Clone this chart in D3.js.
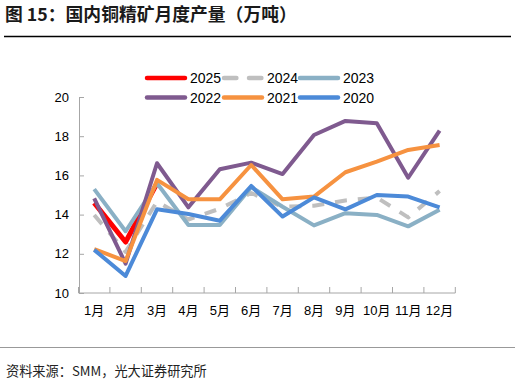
<!DOCTYPE html>
<html><head><meta charset="utf-8">
<script src="https://cdn.jsdelivr.net/npm/d3@7"></script>
<style>
html,body{margin:0;padding:0;background:#fff;}
svg{display:block;}
text{font-family:"Liberation Sans",Arial,"Noto Sans CJK SC",sans-serif;}
</style></head>
<body>
<svg id="c" width="515" height="382"></svg>
<script>
const months = ["1月","2月","3月","4月","5月","6月","7月","8月","9月","10月","11月","12月"];
const yTicks = [10,12,14,16,18,20];
const years = ["2025","2024","2023","2022","2021","2020"];
const s2025 = [14.6, 12.6, 15.6];
const s2024 = [13.98, 12.1, 14.66, 13.75, 14.3, 15.1, 14.4, 14.45, 14.72, 14.87, 13.86, 15.2];
const s2023 = [15.3, 13.15, 15.6, 13.47, 13.47, 15.4, 14.4, 13.45, 14.07, 13.98, 13.4, 14.25];
const s2022 = [14.83, 11.5, 16.62, 14.37, 16.31, 16.65, 16.07, 18.06, 18.78, 18.66, 15.88, 18.28];
const s2021 = [12.24, 11.63, 15.77, 14.78, 14.78, 16.53, 14.78, 14.92, 16.16, 16.7, 17.3, 17.55];
const s2020 = [12.2, 10.87, 14.27, 14.03, 13.69, 15.46, 13.9, 14.88, 14.27, 15.0, 14.92, 14.37];
const seriesValues = [s2025, s2024, s2023, s2022, s2021, s2020];
const colors = ["#FF0000","#BFBFBF","#8AB0C5","#7F5A8F","#F69240","#4C8AD8"];
const dashes = [null,"12,11",null,null,null,null];
const widths = [5,4,4,4,4,4];

const svg = d3.select("#c");
const x = d3.scaleBand().domain(months).range([78.5, 455.3]);
const y = d3.scaleLinear().domain([10,20]).range([293,97]);

// title
svg.append("text").attr("x",5).attr("y",21)
  .style("font-family","'Noto Sans CJK SC',sans-serif").style("font-weight","bold").style("font-size","17.8px")
  .attr("fill","#1a1a1a").text("图 15：国内铜精矿月度产量（万吨）");
svg.append("line").attr("x1",4).attr("x2",511).attr("y1",36.5).attr("y2",36.5)
  .attr("stroke","#000").attr("stroke-width",1.5);

// axes
const axisColor = "#A6A6A6";
const gy = svg.append("g").attr("transform","translate(79,0)")
  .call(d3.axisLeft(y).tickValues(yTicks).tickSize(-5).tickPadding(10).tickFormat(d3.format("d")));
gy.select(".domain").attr("stroke",axisColor);
gy.selectAll(".tick line").attr("stroke",axisColor);
gy.selectAll("text").style("font-size","13px").attr("fill","#000");

const gx = svg.append("g").attr("transform","translate(0,293)");
gx.append("line").attr("x1",78.5).attr("x2",455.3).attr("y1",0).attr("y2",0).attr("stroke",axisColor);
const bounds = months.map(m => x(m)).concat([x.range()[1]]);
gx.selectAll("line.tk").data(bounds).join("line").attr("class","tk")
  .attr("x1",d=>d).attr("x2",d=>d).attr("y1",0).attr("y2",-6).attr("stroke",axisColor);
gx.selectAll("text").data(months).join("text")
  .attr("x",d=>x(d)+x.bandwidth()/2).attr("y",22).attr("text-anchor","middle")
  .style("font-size","13px").style("font-family","'Liberation Sans','Noto Sans CJK SC',sans-serif")
  .attr("fill","#000").text(d=>d);

// lines
const line = d3.line().x((d,i)=>x(months[i])+x.bandwidth()/2).y(d=>y(d)).curve(d3.curveLinear);
seriesValues.forEach((vals,k)=>{
  svg.append("path").datum(vals).attr("d",line).attr("fill","none")
    .attr("stroke",colors[k]).attr("stroke-width",widths[k])
    .attr("stroke-linejoin","round").attr("stroke-linecap","butt")
    .attr("stroke-dasharray",dashes[k]);
});

// legend
const legX = [147, 224, 300];
const legY = [78, 97.5];
years.forEach((yr,k)=>{
  const col = k%3, row = Math.floor(k/3);
  const lx = legX[col], ly = legY[row];
  svg.append("line").attr("x1",lx).attr("x2",lx+38).attr("y1",ly).attr("y2",ly)
    .attr("stroke",colors[k]).attr("stroke-width",4.5).attr("stroke-linecap","round")
    .attr("stroke-dasharray",k===1?"12.4,12.6":null);
  svg.append("text").attr("x",lx+43).attr("y",ly+5).style("font-size","14px")
    .attr("fill","#000").text(yr);
});

// footer
svg.append("line").attr("x1",0).attr("x2",515).attr("y1",347.5).attr("y2",347.5)
  .attr("stroke","#999").attr("stroke-width",1);
svg.append("text").attr("x",6).attr("y",376)
  .style("font-family","'Noto Sans CJK SC',sans-serif").style("font-size","13.2px")
  .attr("fill","#222").text("资料来源：SMM，光大证券研究所");
</script>
</body></html>
